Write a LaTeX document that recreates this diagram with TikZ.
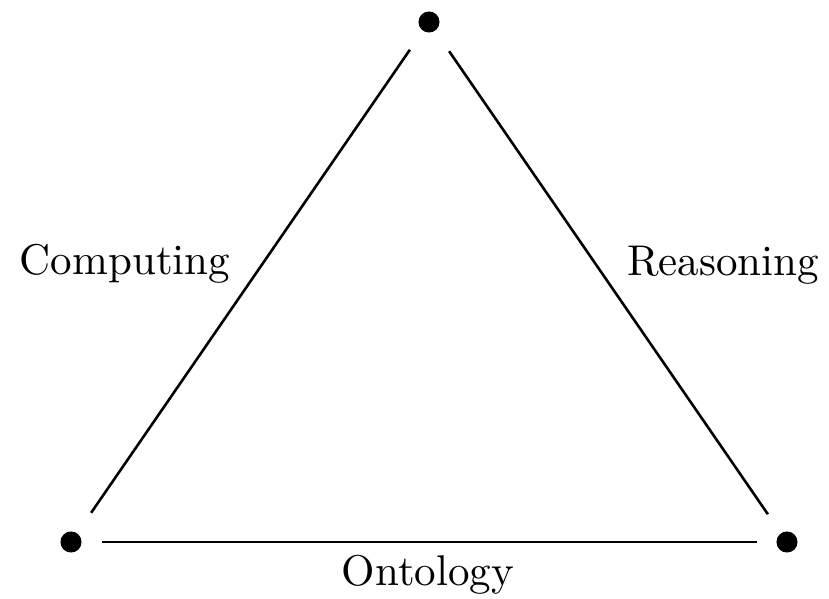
\documentclass[tikz,border=0pt]{standalone}
\begin{document}
\begin{tikzpicture}[x=0.2326pt,y=-0.2326pt,
  dot/.style={circle,fill=black,inner sep=0pt,minimum size=4.9pt},
  edge/.style={line width=0.6pt},
  lbl/.style={anchor=base,inner sep=0pt}]
\useasboundingbox (0,0) rectangle (829,599);
\node[dot] (t) at (429,22) {};
\node[dot] (l) at (71,542) {};
\node[dot] (r) at (787,542) {};
\draw[edge,shorten <=5.6pt,shorten >=5.2pt] (l) -- (t);
\draw[edge,shorten <=5.6pt,shorten >=5.2pt] (t) -- (r);
\draw[edge,shorten <=4.5pt,shorten >=4.4pt] (l) -- (r);
\node[lbl] (c) at (125,274) {Computing};
\node[lbl] (rs) at (723,275) {Reasoning};
\node[lbl] (o) at (428,585) {Ontology};
\end{tikzpicture}
\end{document}
